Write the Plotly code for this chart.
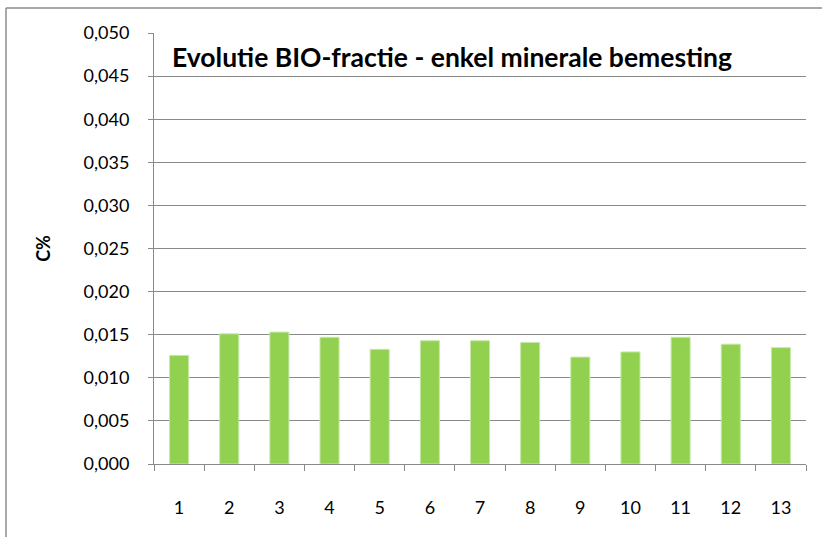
import plotly.graph_objects as go

categories = ["1", "2", "3", "4", "5", "6", "7", "8", "9", "10", "11", "12", "13"]
values = [0.0126, 0.0151, 0.0153, 0.0147, 0.0133, 0.0143, 0.0143,
          0.0141, 0.0124, 0.0130, 0.0147, 0.0139, 0.0135]
y_ticks = [0.000, 0.005, 0.010, 0.015, 0.020, 0.025, 0.030, 0.035, 0.040, 0.045, 0.050]
title_text = "Evolutie BIO-fractie - enkel minerale bemesting"
y_title = "C%"

FONT = "Lato"
GRID = "#898989"

fig = go.Figure()
fig.add_trace(go.Bar(
    x=categories, y=values,
    marker=dict(color="#92D050", line=dict(color="#C6E8A8", width=1)),
    width=0.38,
))

W, H = 822, 537
ml, mr, mt, mb = 154, 16, 33, 73
pw, ph = W - ml - mr, H - mt - mb

fig.update_layout(
    width=W, height=H,
    margin=dict(l=ml, r=mr, t=mt, b=mb),
    paper_bgcolor="white", plot_bgcolor="white",
    separators=", ",
    showlegend=False,
    font=dict(family=FONT, size=18, color="#000000"),
    xaxis=dict(
        type="category",
        tickson="boundaries",
        ticks="outside", ticklen=6, tickcolor=GRID, tickwidth=1,
        showline=True, linecolor=GRID, linewidth=1,
        showgrid=False,
        ticklabelstandoff=27,
        tickfont=dict(family=FONT, size=18),
        range=[-0.5, 12.5],
    ),
    yaxis=dict(
        range=[0, 0.05],
        tickvals=y_ticks,
        tickformat=".3f",
        ticks="outside", ticklen=5, tickcolor=GRID, tickwidth=1,
        showline=True, linecolor=GRID, linewidth=1,
        showgrid=True, gridcolor=GRID, gridwidth=1,
        zeroline=False,
        ticklabelstandoff=15,
        tickfont=dict(family=FONT, size=18),
        title=dict(text="<b>" + y_title + "</b>", font=dict(family=FONT, size=18), standoff=28),
    ),
    annotations=[dict(
        text="<b>" + title_text + "</b>",
        xref="paper", yref="paper",
        x=(170 - ml) / pw, y=(H - mb - 57) / ph,
        xanchor="left", yanchor="middle",
        showarrow=False,
        font=dict(family=FONT, size=26.5, color="#000000"),
        bgcolor="white",
    )],
    shapes=[
        dict(type="line", xref="paper", yref="paper",
             x0=(6 - ml) / pw, x1=(W - ml) / pw,
             y0=(H - mb - 8) / ph, y1=(H - mb - 8) / ph,
             line=dict(color="#8c8c8c", width=1.5)),
        dict(type="line", xref="paper", yref="paper",
             x0=(6 - ml) / pw, x1=(6 - ml) / pw,
             y0=(H - mb - 8) / ph, y1=(-mb) / ph,
             line=dict(color="#8c8c8c", width=1.5)),
    ],
)

fig.write_html("out.html", config={"displayModeBar": False},
               post_script="document.body.style.margin='0';document.body.style.overflow='hidden';")
